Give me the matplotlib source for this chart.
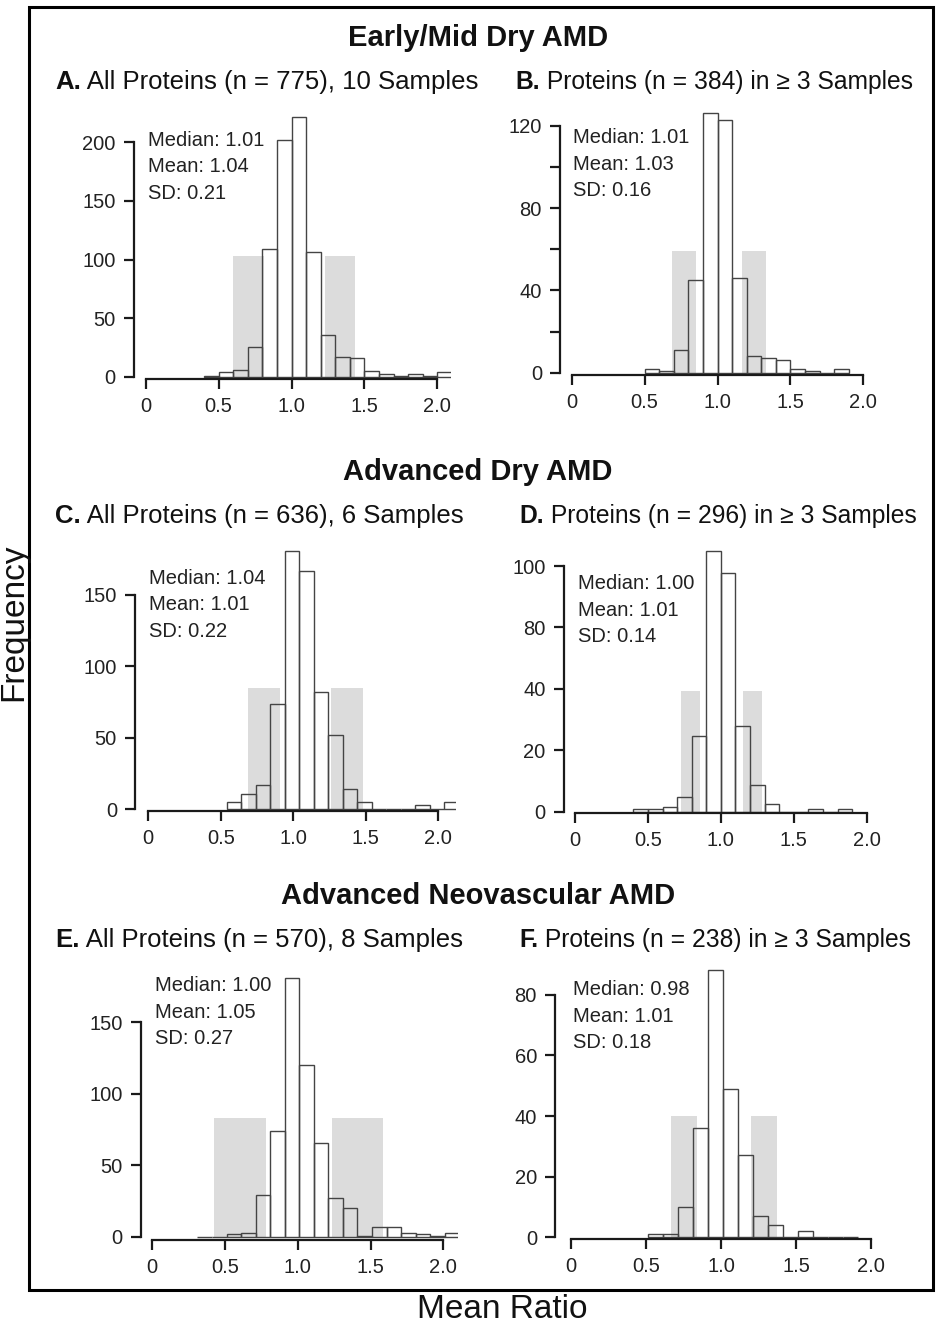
import matplotlib.pyplot as plt
from matplotlib.patches import Rectangle

# ---- data (bin left edges, counts, shaded SD bands) ----
lefts_a = [0.4, 0.5, 0.6, 0.7, 0.8, 0.9, 1.0, 1.1, 1.2, 1.3, 1.4, 1.5, 1.6, 1.7, 1.8, 1.9, 2.0]
counts_a = [1, 4, 6, 25, 109, 202, 222, 106, 36, 17, 16, 5, 2, 1, 2, 1, 4]
shade_a = [(0.60, 0.81), (1.23, 1.435)]
shade_h_a = 103

lefts_b = [0.5, 0.6, 0.7, 0.8, 0.9, 1.0, 1.1, 1.2, 1.3, 1.4, 1.5, 1.6, 1.7, 1.8]
counts_b = [2, 1, 11, 45, 126, 123, 46, 8, 7, 6, 2, 1, 0, 2]
shade_b = [(0.69, 0.855), (1.165, 1.335)]
shade_h_b = 59

lefts_c = [0.54, 0.64, 0.74, 0.84, 0.94, 1.04, 1.14, 1.24, 1.34, 1.44, 1.54, 1.64, 1.74, 1.84, 1.94, 2.04]
counts_c = [5, 11, 17, 74, 181, 167, 82, 52, 14, 5, 0, 0, 0, 3, 0, 5]
shade_c = [(0.685, 0.905), (1.26, 1.48)]
shade_h_c = 85

lefts_d = [0.4, 0.5, 0.6, 0.7, 0.8, 0.9, 1.0, 1.1, 1.2, 1.3, 1.4, 1.5, 1.6, 1.7, 1.8]
counts_d = [1, 1, 2, 6, 31, 106, 97, 35, 11, 3, 0, 0, 1, 0, 1]
shade_d = [(0.725, 0.857), (1.15, 1.285)]
shade_h_d = 49

lefts_e = [0.31, 0.41, 0.51, 0.61, 0.71, 0.81, 0.91, 1.01, 1.11, 1.21, 1.31, 1.41, 1.51, 1.61, 1.71, 1.81, 1.91, 2.01]
counts_e = [0, 0, 2, 3, 29, 74, 181, 120, 66, 27, 20, 1, 7, 7, 3, 2, 1, 3]
shade_e = [(0.426, 0.78), (1.236, 1.586)]
shade_h_e = 83

lefts_f = [0.51, 0.61, 0.71, 0.81, 0.91, 1.01, 1.11, 1.21, 1.31, 1.41, 1.51, 1.61, 1.71, 1.81]
counts_f = [1, 1, 10, 36, 88, 49, 27, 7, 4, 0, 2, 0, 0, 0]
shade_f = [(0.667, 0.842), (1.2, 1.376)]
shade_h_f = 40

stats = ["Median: 1.01\nMean: 1.04\nSD: 0.21",
         "Median: 1.01\nMean: 1.03\nSD: 0.16",
         "Median: 1.04\nMean: 1.01\nSD: 0.22",
         "Median: 1.00\nMean: 1.01\nSD: 0.14",
         "Median: 1.00\nMean: 1.05\nSD: 0.27",
         "Median: 0.98\nMean: 1.01\nSD: 0.18"]

letters = ["A.", "B.", "C.", "D.", "E.", "F."]
titles = [" All Proteins (n = 775), 10 Samples", " Proteins (n = 384) in \u2265 3 Samples",
          " All Proteins (n = 636), 6 Samples", " Proteins (n = 296) in \u2265 3 Samples",
          " All Proteins (n = 570), 8 Samples", " Proteins (n = 238) in \u2265 3 Samples"]
sections = ["Early/Mid Dry AMD", "Advanced Dry AMD", "Advanced Neovascular AMD"]

yticks = [[0, 50, 100, 150, 200], [0, 20, 40, 60, 80, 100, 120], [0, 50, 100, 150],
          [0, 25, 50, 75, 100], [0, 50, 100, 150], [0, 20, 40, 60, 80]]
ylabels = [["0", "50", "100", "150", "200"], ["0", "", "40", "", "80", "", "120"],
           ["0", "50", "100", "150"], ["0", "20", "40", "80", "100"],
           ["0", "50", "100", "150"], ["0", "20", "40", "60", "80"]]
xticks = [0, 0.5, 1.0, 1.5, 2.0]
xlabels = ["0", "0.5", "1.0", "1.5", "2.0"]

# ---- layout in pixels ----
W, H = 936, 1330
plt.rcParams['font.family'] = ['Liberation Sans', 'DejaVu Sans']
fig = plt.figure(figsize=(W / 100, H / 100), dpi=100)

# y-axis line x, x of 0, x of 2, y of 0, x-axis line y, right edge
layout = [(133.5, 145.7, 437.3, 376.7, 378.5, 451),
          (560.0, 571.7, 863.3, 372.7, 374.5, 868),
          (135.0, 148.3, 438.3, 809.3, 811.0, 456),
          (563.8, 575.0, 866.7, 811.7, 813.0, 871),
          (140.5, 152.3, 443.3, 1237.0, 1240.0, 458),
          (555.0, 571.0, 871.0, 1237.3, 1238.5, 876)]
ytop_px = [142.3, 125.7, 595.0, 566.0, 1022.3, 994.7]
stat_pos = [(148, 131), (573, 128), (149, 569), (578, 574), (155, 976), (573, 980)]
title_pos = [(55, 82), (515, 82), (55, 516), (519, 516), (55, 940), (519, 940)]
title_size = [18.5, 17.7, 18.5, 17.7, 18.5, 17.7]
section_y = [38, 472, 896]

panels = [(lefts_a, counts_a, shade_a, shade_h_a), (lefts_b, counts_b, shade_b, shade_h_b),
          (lefts_c, counts_c, shade_c, shade_h_c), (lefts_d, counts_d, shade_d, shade_h_d),
          (lefts_e, counts_e, shade_e, shade_h_e), (lefts_f, counts_f, shade_f, shade_h_f)]

for i, (lefts, counts, shade, shade_h) in enumerate(panels):
    yl, x0, x2, y0, xa, right = layout[i]
    sx = (x2 - x0) / 2.0
    sy = (y0 - ytop_px[i]) / yticks[i][-1]
    ymax = max(yticks[i][-1], max(counts), shade_h) * 1.03
    top = y0 - ymax * sy
    ax = fig.add_axes([yl / W, 1 - xa / H, (right - yl) / W, (xa - top) / H])
    ax.set_xlim((yl - x0) / sx, (right - x0) / sx)
    ax.set_ylim(-(xa - y0) / sy, ymax)

    for lo, hi in shade:
        ax.bar(lo, shade_h, width=hi - lo, align='edge', color='#dcdcdc', linewidth=0, zorder=1)
    ax.bar(lefts, counts, width=0.1, align='edge', fill=False, edgecolor='#444444',
           linewidth=1.0, zorder=2)

    for s in ['top', 'right']:
        ax.spines[s].set_visible(False)
    for s in ['left', 'bottom']:
        ax.spines[s].set_linewidth(1.6)
        ax.spines[s].set_color('#1a1a1a')
    ax.spines['left'].set_bounds(0, yticks[i][-1])
    ax.spines['bottom'].set_bounds(0, 2.0)
    ax.set_yticks(yticks[i])
    ax.set_yticklabels(ylabels[i])
    ax.set_xticks(xticks)
    ax.set_xticklabels(xlabels)
    ax.tick_params(length=7, width=1.6, color='#1a1a1a', labelsize=14.5, labelcolor='#222222')
    ax.tick_params(axis='y', pad=6)
    ax.tick_params(axis='x', pad=6)
    ax.patch.set_alpha(0)

    fig.text(stat_pos[i][0] / W, 1 - stat_pos[i][1] / H, stats[i], fontsize=14.5,
             color='#222222', va='top', ha='left', linespacing=1.5)
    t = fig.text(title_pos[i][0] / W, 1 - title_pos[i][1] / H, letters[i], fontsize=title_size[i],
                 fontweight='bold', color='#111111', va='center', ha='left')
    fig.canvas.draw()
    bb = t.get_window_extent()
    fig.text(bb.x1 / W, 1 - title_pos[i][1] / H, titles[i], fontsize=title_size[i],
             color='#111111', va='center', ha='left')

for k, name in enumerate(sections):
    fig.text(478 / W, 1 - section_y[k] / H, name, fontsize=21, fontweight='bold',
             color='#111111', va='center', ha='center')

fig.text(14 / W, 1 - 622 / H, "Frequency", fontsize=24, rotation=90, va='center', ha='center',
         color='#111111')
fig.text(502 / W, 1 - 1310 / H, "Mean Ratio", fontsize=24, va='center', ha='center',
         color='#111111')

fig.patches.append(Rectangle((29 / W, 1 - 1290 / H), (933 - 29) / W, (1290 - 7) / H,
                             transform=fig.transFigure, fill=False, edgecolor='black',
                             linewidth=2.2))

fig.savefig("out.png", dpi=100)
